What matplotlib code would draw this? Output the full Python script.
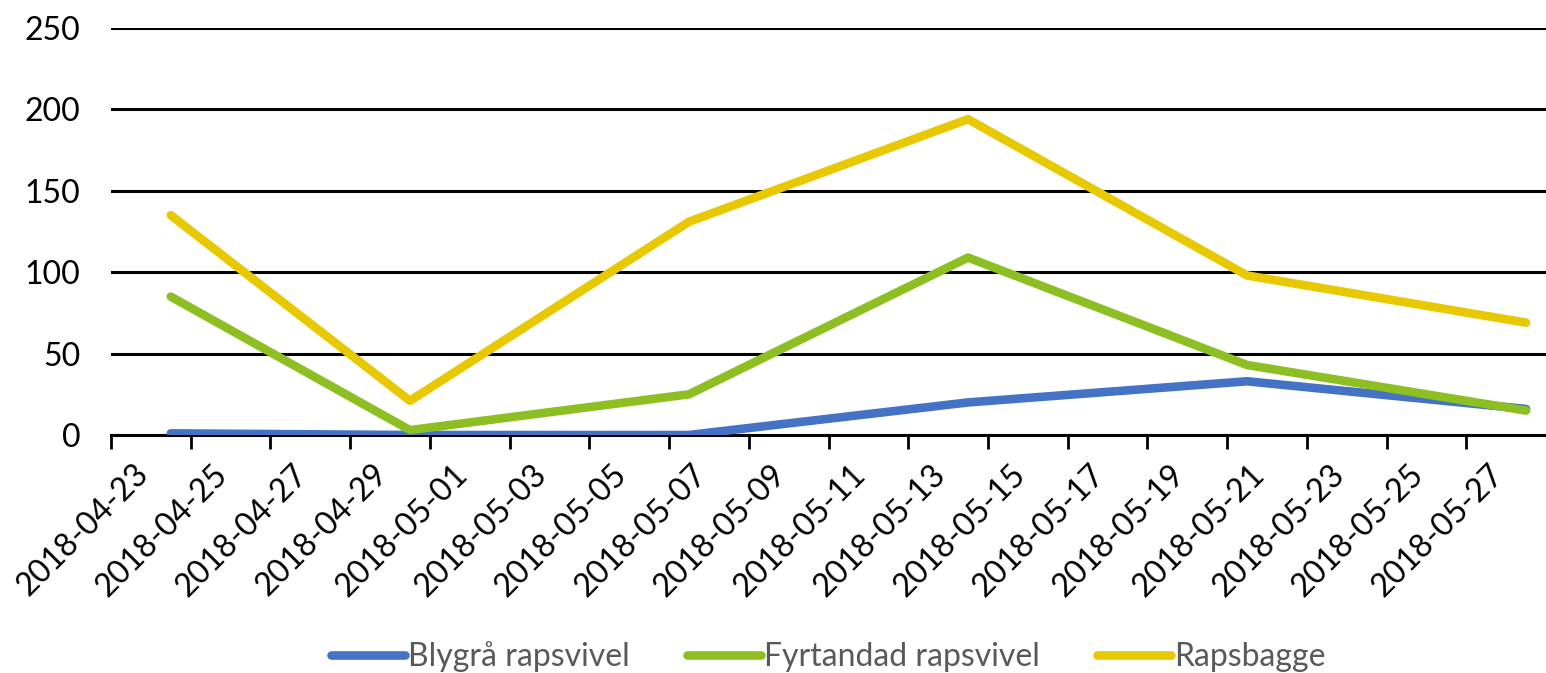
import matplotlib
matplotlib.use("Agg")
import matplotlib.pyplot as plt
import matplotlib.dates as mdates
import matplotlib.transforms as mtransforms
import numpy as np
import pandas as pd

# sampling dates and trap counts per species
dates = ["2018-04-24", "2018-04-30", "2018-05-07", "2018-05-14", "2018-05-21", "2018-05-28"]
blygra = [1, 0, 0, 20, 33, 16]
fyrtandad = [85, 3, 25, 109, 43, 15]
rapsbagge = [135, 21, 131, 194, 98, 69]

series_names = ["Blygrå rapsvivel", "Fyrtandad rapsvivel", "Rapsbagge"]
colors = ["#4472C4", "#8DBF22", "#E8C800"]

plt.rcParams["font.family"] = ["Lato", "DejaVu Sans"]

# Excel-style date axis: each point sits in the middle of its day
x = pd.to_datetime(dates) + pd.Timedelta(hours=12)

fig = plt.figure(figsize=(15.46, 6.73), dpi=100)
ax = fig.add_axes([111 / 1546, 1 - 435 / 673, 1 - 111 / 1546, (435 - 28) / 673])

for vals, name, c in zip([blygra, fyrtandad, rapsbagge], series_names, colors):
    ax.plot(x, vals, color=c, lw=6.2, label=name,
            solid_capstyle="round", solid_joinstyle="round", zorder=3)

ax.set_ylim(0, 250)
ax.set_xlim(pd.Timestamp("2018-04-23"), pd.Timestamp("2018-05-29"))
ax.set_yticks(np.arange(0, 251, 50))
ax.yaxis.grid(True, color="black", lw=2.2)
ax.set_axisbelow(True)

ticks = pd.date_range("2018-04-23", "2018-05-27", freq="2D")
ax.set_xticks(ticks)
ax.xaxis.set_major_formatter(mdates.DateFormatter("%Y-%m-%d"))

for s in ["top", "right", "left"]:
    ax.spines[s].set_visible(False)
ax.spines["bottom"].set_linewidth(2.2)
ax.spines["bottom"].set_zorder(2)
ax.tick_params(axis="x", length=10, width=2, labelsize=23, pad=0)
ax.tick_params(axis="y", length=0, labelsize=23, pad=22)

# rotated date labels, nudged so their upper end sits just right of the tick
shift = mtransforms.ScaledTranslation(0.22, -0.10, fig.dpi_scale_trans)
for lab in ax.get_xticklabels():
    lab.set_rotation(45)
    lab.set_ha("right")
    lab.set_va("top")
    lab.set_rotation_mode("anchor")
    lab.set_transform(lab.get_transform() + shift)

leg = ax.legend(loc="center", bbox_to_anchor=(0.5, -0.545), ncol=3, frameon=False,
                fontsize=23, handlelength=2.3, handletextpad=0.1, columnspacing=1.8)
for t in leg.get_texts():
    t.set_color("#595959")

fig.savefig("out.png", dpi=100)
